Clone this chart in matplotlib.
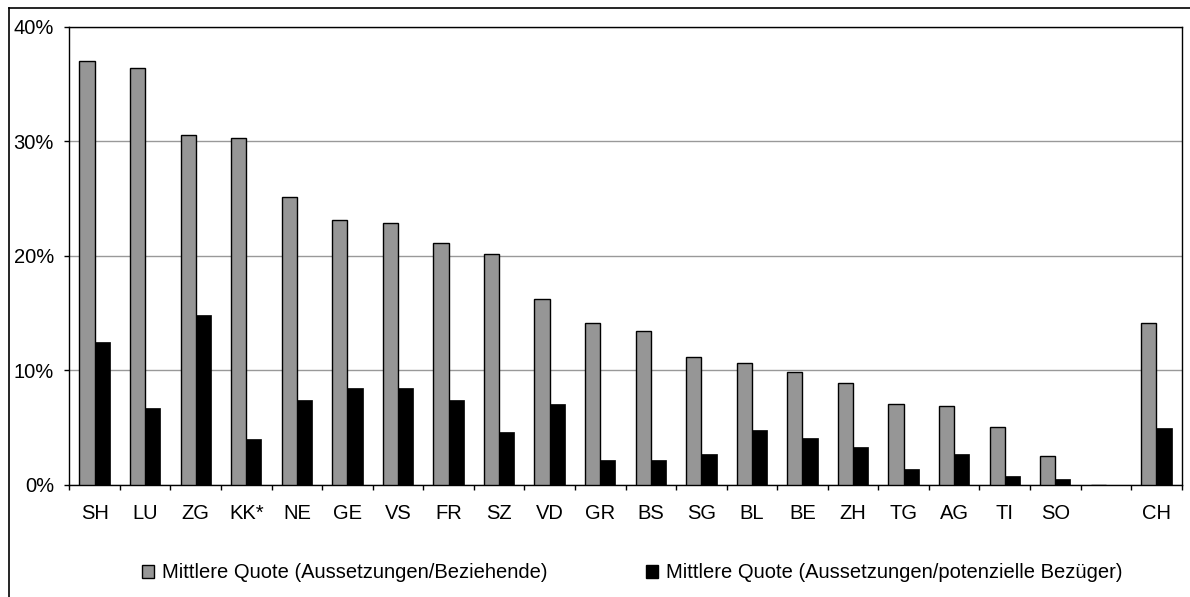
import numpy as np
import matplotlib
matplotlib.use('Agg')
import matplotlib.pyplot as plt
from matplotlib.lines import Line2D
from matplotlib.patches import Patch

# data (percent)
cantons = ['SH', 'LU', 'ZG', 'KK*', 'NE', 'GE', 'VS', 'FR', 'SZ', 'VD', 'GR',
           'BS', 'SG', 'BL', 'BE', 'ZH', 'TG', 'AG', 'TI', 'SO', '', 'CH']
quote_beziehende = [37.0, 36.4, 30.6, 30.3, 25.1, 23.1, 22.9, 21.1, 20.15, 16.2, 14.1,
                    13.4, 11.15, 10.65, 9.8, 8.85, 7.05, 6.85, 5.05, 2.45, 0, 14.1]
quote_potenziell = [12.5, 6.7, 14.8, 3.95, 7.4, 8.4, 8.4, 7.4, 4.6, 7.05, 2.15,
                    2.15, 2.65, 4.8, 4.1, 3.3, 1.35, 2.65, 0.7, 0.5, 0, 4.9]
legend_labels = ['Mittlere Quote (Aussetzungen/Beziehende)',
                 'Mittlere Quote (Aussetzungen/potenzielle Bezüger)']
yticks = [0, 10, 20, 30, 40]

plt.rcParams['font.family'] = ['Liberation Sans', 'DejaVu Sans']
fs = 14.5

fig = plt.figure(figsize=(11.9, 5.97), dpi=100)
ax = fig.add_axes([69.3 / 1190, 1 - 484.5 / 597, (1181.7 - 69.3) / 1190, (484.5 - 27) / 597])

x = np.arange(len(cantons))
w = 0.30
ax.bar(x - w / 2, quote_beziehende, w, color='#969696', edgecolor='black', linewidth=1.0, zorder=3)
ax.bar(x + w / 2, quote_potenziell, w, color='black', edgecolor='black', linewidth=0.5, zorder=3)

ax.set_xlim(-0.5, len(cantons) - 0.5)
ax.set_ylim(0, 40)
ax.set_yticks(yticks)
ax.set_yticklabels(['%d%%' % v for v in yticks], fontsize=fs)
ax.yaxis.grid(True, color='#999999', linewidth=1.0, zorder=0)

# ticks between categories, labels at category centres
ax.set_xticks(np.arange(-0.5, len(cantons)), minor=False)
ax.set_xticklabels([''] * (len(cantons) + 1))
ax.set_xticks(x, minor=True)
ax.set_xticklabels(cantons, minor=True, fontsize=fs)
ax.tick_params(axis='x', which='major', direction='out', length=3.6, width=1, color='black')
ax.tick_params(axis='x', which='minor', length=0, pad=14)
ax.tick_params(axis='y', direction='out', length=3.6, width=1, pad=7.5)

for s in ax.spines.values():
    s.set_color('black')
    s.set_linewidth(1.0)

handles = [Patch(facecolor='#969696', edgecolor='black', linewidth=1.0),
           Patch(facecolor='black', edgecolor='black')]
fig.legend(handles, legend_labels, loc='center', bbox_to_anchor=(632 / 1190, 1 - 573 / 597),
           ncol=2, frameon=False, fontsize=fs, handlelength=0.6, handleheight=0.6,
           handletextpad=0.4, columnspacing=4.9)

# outer chart frame (only top and left edges visible)
fig.add_artist(Line2D([9 / 1190, 1.0], [1 - 8 / 597, 1 - 8 / 597], color='black', linewidth=1.2,
                      transform=fig.transFigure))
fig.add_artist(Line2D([9 / 1190, 9 / 1190], [0.0, 1 - 8 / 597], color='black', linewidth=1.2,
                      transform=fig.transFigure))

fig.savefig('out.png', dpi=100)
